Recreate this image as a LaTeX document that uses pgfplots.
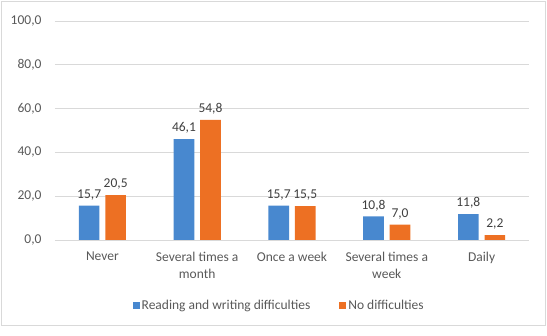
\documentclass[border=0pt]{standalone}
\usepackage{pgfplots}
\pgfplotsset{compat=1.18}
\usepackage{fontspec}
\setmainfont{Carlito}
\definecolor{barblue}{RGB}{72,136,207}
\definecolor{barorange}{RGB}{237,112,35}
\definecolor{txtgray}{RGB}{89,89,89}
\definecolor{lblgray}{RGB}{64,64,64}
\definecolor{gridgray}{RGB}{217,217,217}
\begin{document}
\begin{tikzpicture}
\begin{axis}[
  name=ax,
  scale only axis, width=474pt, height=219pt,
  ybar, ybar=5.8pt, bar width=20.7pt,
  xmin=-0.5, xmax=4.5, ymin=0, ymax=100,
  xtick=data,
  xticklabels={Never,{Several times a\\month},Once a week,{Several times a\\week},Daily},
  ytick={0,20,...,100},
  ymajorgrids, grid style={color=gridgray, line width=0.8pt},
  axis line style={draw=none},
  tick style={draw=none},
  font=\fontsize{13.5}{17}\selectfont,
  tick label style={color=txtgray},
  xticklabel style={align=center, yshift=-4pt},
  yticklabel style={xshift=-10pt},
  /pgf/number format/assume math mode=true,
  yticklabel style={/pgf/number format/.cd, use comma, fixed, fixed zerofill, precision=1},
  nodes near coords,
  every node near coord/.append style={color=lblgray, font=\fontsize{13.5}{16}\selectfont, yshift=2pt,
     /pgf/number format/.cd, use comma, fixed, fixed zerofill, precision=1, assume math mode=true},
  legend columns=2,
  legend style={at={(0.473,-0.30)}, anchor=center, draw=none, fill=none,
     font=\fontsize{13.5}{16}\selectfont, text=txtgray,
     /tikz/every even column/.append style={column sep=27pt}},
  legend image code/.code={\fill[#1] (0pt,-3.5pt) rectangle (7pt,3.5pt);},
]
\addplot[fill=barblue, draw=none] coordinates {(0,15.7) (1,46.1) (2,15.7) (3,10.8) (4,11.8)};
\addplot[fill=barorange, draw=none] coordinates {(0,20.5) (1,54.8) (2,15.5) (3,7.0) (4,2.2)};
\legend{Reading and writing difficulties, No difficulties}
\end{axis}
\pgfresetboundingbox
\begin{scope}[shift={(ax.south west)}, x=1pt, y=1pt]
\useasboundingbox (-55,-96) rectangle (492,240);
\draw[color=gridgray, line width=1pt] (-53,-86) rectangle (490,238);
\end{scope}
\end{tikzpicture}
\end{document}
